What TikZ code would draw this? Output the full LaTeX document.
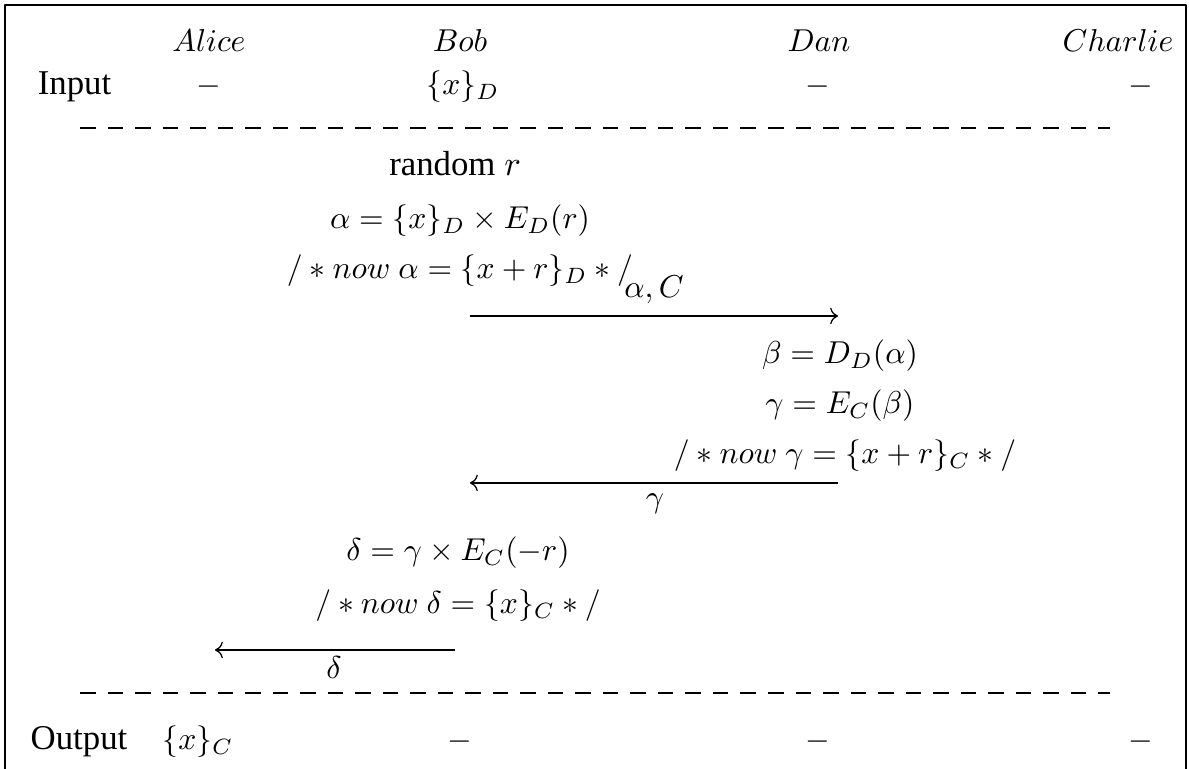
\documentclass[tikz,border=0pt]{standalone}
\usepackage{amsmath,amssymb}
\usepackage{fontspec}
\setmainfont{Liberation Serif}
\usepackage{tikz}
\usetikzlibrary{arrows.meta}

\begin{document}
\begin{tikzpicture}[line join=round,
  lbl/.style={anchor=base,inner sep=0pt},
  txt/.style={lbl,font=\fontsize{11}{13}\selectfont},
  sepline/.style={dash pattern=on 4.9pt off 3.8pt},
  msg/.style={->}]
\useasboundingbox (0,0) rectangle (13.211,8.544);
\draw (0.056,0) -- (0.056,8.489) -- (13.178,8.489) -- (13.178,0);
% parties
\node[lbl] (alice) at (2.322,7.967) {$Alice$};
\node[lbl] (bob) at (5.111,7.967) {$Bob$};
\node[lbl] (dan) at (9.100,7.967) {$Dan$};
\node[lbl] (charlie) at (12.422,7.967) {$Charlie$};
% inputs
\node[txt] (inp) at (0.828,7.489) {Input};
\node[lbl] (inpA) at (2.322,7.489) {$-$};
\node[lbl] (inpB) at (5.144,7.489) {$\{x\}_D$};
\node[lbl] (inpD) at (9.089,7.489) {$-$};
\node[lbl] (inpC) at (12.678,7.489) {$-$};
\coordinate (sepTl) at (0.889,7.122);
\coordinate (sepTr) at (12.333,7.122);
\draw[sepline] (sepTl) -- (sepTr);
% Bob blinds
\node[txt] (rnd) at (5.056,6.589) {random $r$};
\node[lbl] (alpha) at (5.111,6.000) {$\alpha=\{x\}_D\times E_D(r)$};
\node[lbl] (nowA) at (5.111,5.444) {$/*now\ \alpha=\{x+r\}_D*/$};
\coordinate (m1s) at (5.222,5.033);
\coordinate (m1e) at (9.311,5.033);
\draw[msg] (m1s) -- (m1e);
\node[lbl] (m1lab) at (7.267,5.233) {$\alpha,C$};
% Dan re-encrypts
\node[lbl] (beta) at (9.333,4.500) {$\beta=D_D(\alpha)$};
\node[lbl] (gamma) at (9.333,3.944) {$\gamma=E_C(\beta)$};
\node[lbl] (nowG) at (9.389,3.389) {$/*now\ \gamma=\{x+r\}_C*/$};
\coordinate (m2s) at (9.311,3.178);
\coordinate (m2e) at (5.222,3.178);
\draw[msg] (m2s) -- (m2e);
\node[lbl] (m2lab) at (7.278,2.900) {$\gamma$};
% Bob unblinds
\node[lbl] (delta) at (5.089,2.311) {$\delta=\gamma\times E_C(-r)$};
\node[lbl] (nowD) at (5.089,1.722) {$/*now\ \delta=\{x\}_C*/$};
\coordinate (m3s) at (5.056,1.322);
\coordinate (m3e) at (2.389,1.322);
\draw[msg] (m3s) -- (m3e);
\node[lbl] (m3lab) at (3.711,1.000) {$\delta$};
\coordinate (sepBl) at (0.889,0.844);
\coordinate (sepBr) at (12.333,0.844);
\draw[sepline] (sepBl) -- (sepBr);
% outputs
\node[txt] (outp) at (0.878,0.211) {Output};
\node[lbl] (outA) at (2.200,0.211) {$\{x\}_C$};
\node[lbl] (outB) at (5.111,0.211) {$-$};
\node[lbl] (outD) at (9.089,0.211) {$-$};
\node[lbl] (outC) at (12.678,0.211) {$-$};
\end{tikzpicture}
\end{document}
